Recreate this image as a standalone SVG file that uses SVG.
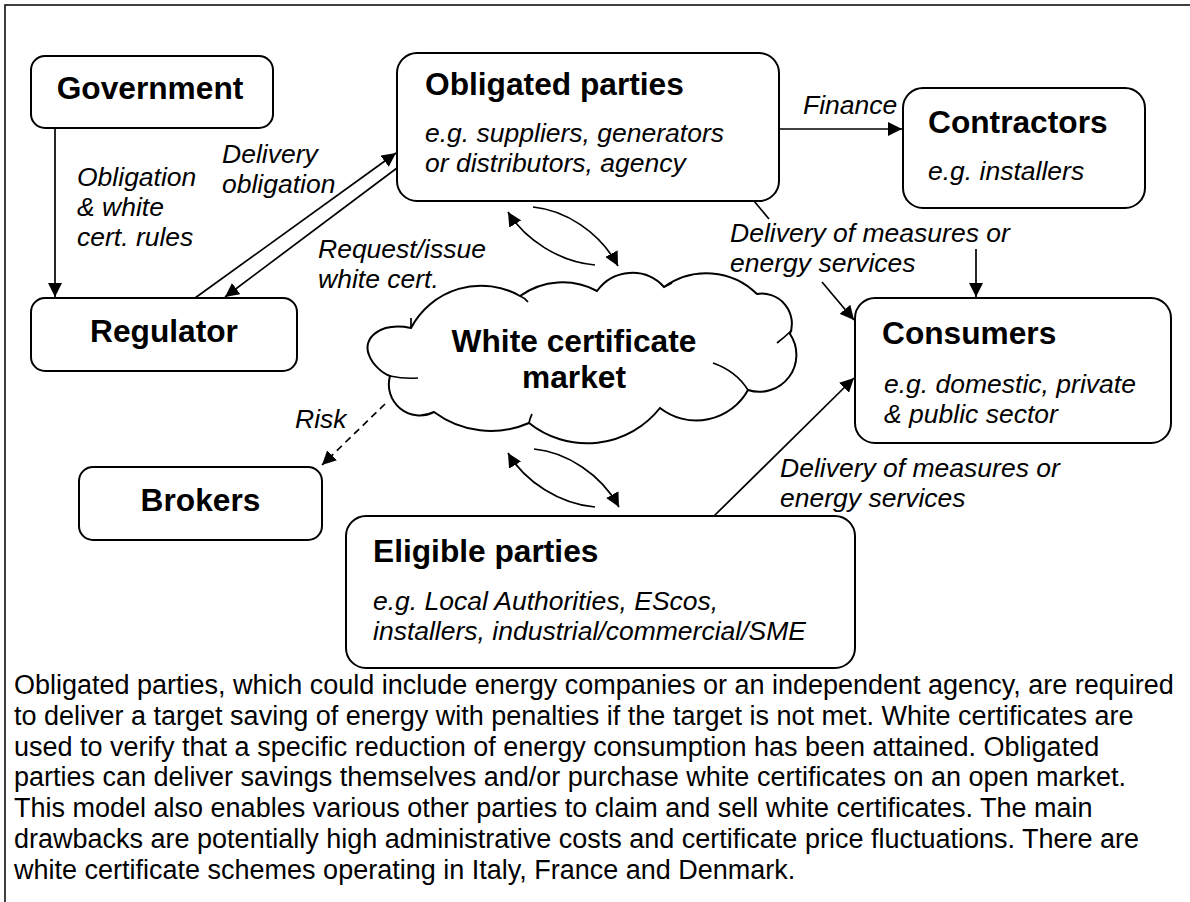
<svg xmlns="http://www.w3.org/2000/svg" width="1190" height="902" viewBox="0 0 1190 902">
<defs>
<style>
.box{fill:#fff;stroke:#000;stroke-width:2}
.ti{font-family:"Liberation Sans",Arial,sans-serif;font-weight:bold;font-size:31.7px;fill:#000}
.it{font-family:"Liberation Sans",Arial,sans-serif;font-style:italic;font-size:26.5px;fill:#000}
.bd{font-family:"Liberation Sans",Arial,sans-serif;font-size:27px;fill:#000}
.ln{stroke:#000;stroke-width:1.7;fill:none}
.dash{stroke-dasharray:7 5}
</style>
<marker id="ah" viewBox="0 0 14 14" refX="14" refY="7" markerWidth="14" markerHeight="14" markerUnits="userSpaceOnUse" orient="auto">
<path d="M0,0 L14,7 L0,14 z" fill="#000"/>
</marker>
</defs>
<rect width="1190" height="902" fill="#fff"/>
<path d="M1190,5 H5 V902" fill="none" stroke="#000" stroke-width="1.5"/>

<g id="connectors">
<line class="ln" x1="55" y1="128" x2="55" y2="297" marker-end="url(#ah)"/>
<line class="ln" x1="195" y1="298" x2="396" y2="153" marker-end="url(#ah)"/>
<line class="ln" x1="397" y1="168" x2="225" y2="297" marker-end="url(#ah)"/>
<line class="ln" x1="780" y1="129" x2="902" y2="129" marker-end="url(#ah)"/>
<line class="ln" x1="754" y1="201" x2="769" y2="219"/>
<line class="ln" x1="822" y1="282" x2="854" y2="320" marker-end="url(#ah)"/>
<line class="ln" x1="976" y1="249" x2="976" y2="297" marker-end="url(#ah)"/>
<line class="ln" x1="714" y1="516" x2="854" y2="378" marker-end="url(#ah)"/>
<line class="ln dash" x1="385" y1="404" x2="322" y2="465" marker-end="url(#ah)"/>
<path class="ln" d="M595,265 C560,262 525,240 508,212" marker-end="url(#ah)"/>
<path class="ln" d="M533,207 C565,210 600,232 618,266" marker-end="url(#ah)"/>
<path class="ln" d="M595,507 C560,504 525,482 508,453" marker-end="url(#ah)"/>
<path class="ln" d="M534,449 C566,452 601,474 619,507" marker-end="url(#ah)"/>
</g>

<g id="connector-labels">
<text class="it" x="77" y="186">Obligation</text>
<text class="it" x="77" y="216">&amp; white</text>
<text class="it" x="77" y="246">cert. rules</text>
<text class="it" x="222" y="163">Delivery</text>
<text class="it" x="222" y="193">obligation</text>
<text class="it" x="318" y="258">Request/issue</text>
<text class="it" x="318" y="288">white cert.</text>
<text class="it" x="803" y="114">Finance</text>
<text class="it" x="730" y="242">Delivery of measures or</text>
<text class="it" x="730" y="272">energy services</text>
<text class="it" x="295" y="428">Risk</text>
<text class="it" x="780" y="477">Delivery of measures or</text>
<text class="it" x="780" y="507">energy services</text>
</g>

<g id="government">
<rect class="box" x="31" y="56" width="242" height="72" rx="14"/>
<text class="ti" x="150" y="99" text-anchor="middle">Government</text>
</g>
<g id="regulator">
<rect class="box" x="31" y="298" width="266" height="73" rx="14"/>
<text class="ti" x="164" y="342" text-anchor="middle">Regulator</text>
</g>
<g id="obligated-parties">
<rect class="box" x="397" y="53" width="382" height="148" rx="20"/>
<text class="ti" x="425" y="95">Obligated parties</text>
<text class="it" x="425" y="142">e.g. suppliers, generators</text>
<text class="it" x="425" y="172">or distributors, agency</text>
</g>
<g id="contractors">
<rect class="box" x="903" y="88" width="242" height="120" rx="20"/>
<text class="ti" x="928" y="133">Contractors</text>
<text class="it" x="928" y="180">e.g. installers</text>
</g>
<g id="consumers">
<rect class="box" x="855" y="298" width="316" height="145" rx="20"/>
<text class="ti" x="882" y="344">Consumers</text>
<text class="it" x="884" y="393">e.g. domestic, private</text>
<text class="it" x="884" y="423">&amp; public sector</text>
</g>
<g id="brokers">
<rect class="box" x="79" y="467" width="243" height="73" rx="14"/>
<text class="ti" x="200.5" y="511" text-anchor="middle">Brokers</text>
</g>
<g id="eligible-parties">
<rect class="box" x="346" y="516" width="509" height="152" rx="20"/>
<text class="ti" x="373" y="562">Eligible parties</text>
<text class="it" x="373" y="610">e.g. Local Authorities, EScos,</text>
<text class="it" x="373" y="640">installers, industrial/commercial/SME</text>
</g>
<g id="white-certificate-market">
<path class="box" d="M411,328 C380,322 362,338 369,355 C373,366 384,374 390,376 A31,31 0 0 0 434,412 A95,95 0 0 0 529,423 A93,93 0 0 0 660,408 A59,59 0 0 0 748,390 A37,37 0 0 0 790,334 A30,30 0 0 0 757,294 A72,72 0 0 0 664,287 A43,43 0 0 0 597,291 A73,73 0 0 0 520,296 A79,79 0 0 0 411,328 Z"/>
<path class="ln" d="M390,376 Q404,379 418,378 M713,363 Q736,371 748,390 M777,343 Q786,336 792,330 M520,296 Q525,298 528,302 M529,423 Q530,418 532,414 M664,287 Q668,285 672,283 M411,328 L411,318"/>
<text class="ti" x="574" y="352" text-anchor="middle">White certificate</text>
<text class="ti" x="574" y="388" text-anchor="middle">market</text>
</g>

<g id="description">
<text class="bd" x="14" y="694">Obligated parties, which could include energy companies or an independent agency, are required</text>
<text class="bd" x="14" y="725">to deliver a target saving of energy with penalties if the target is not met. White certificates are</text>
<text class="bd" x="14" y="756">used to verify that a specific reduction of energy consumption has been attained. Obligated</text>
<text class="bd" x="14" y="786">parties can deliver savings themselves and/or purchase white certificates on an open market.</text>
<text class="bd" x="14" y="817">This model also enables various other parties to claim and sell white certificates. The main</text>
<text class="bd" x="14" y="848">drawbacks are potentially high administrative costs and certificate price fluctuations. There are</text>
<text class="bd" x="14" y="879">white certificate schemes operating in Italy, France and Denmark.</text>
</g>
</svg>
